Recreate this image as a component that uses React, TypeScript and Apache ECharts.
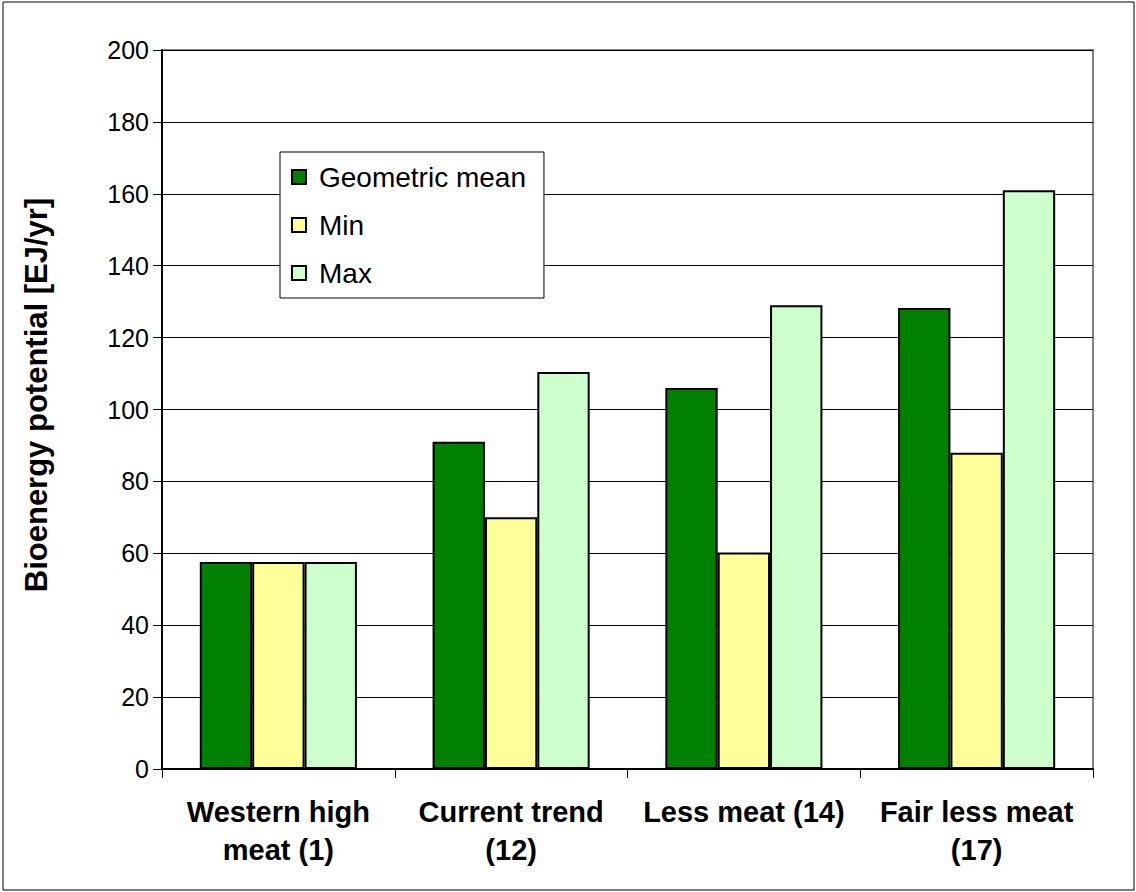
import React, { useEffect, useRef } from "react";
import * as echarts from "echarts";

const categories = ["Western high\nmeat (1)", "Current trend\n(12)", "Less meat (14)", "Fair less meat\n(17)"];
const geometricMean = [57.6, 91, 106, 128.2];
const minValues = [57.6, 70, 60.2, 88];
const maxValues = [57.6, 110.4, 129, 161];
const seriesNames = ["Geometric mean", "Min", "Max"];
const seriesColors = ["#008000", "#FFFF99", "#CCFFCC"];
const yAxisTitle = "Bioenergy potential [EJ/yr]";

const FONT = "Liberation Sans, Arial, sans-serif";

export default function App() {
  const ref = useRef<HTMLDivElement>(null);
  useEffect(() => {
    const chart = echarts.init(ref.current!, null, { renderer: "svg" });
    const data = [geometricMean, minValues, maxValues];
    chart.setOption({
      animation: false,
      backgroundColor: "#ffffff",
      textStyle: { fontFamily: FONT },
      grid: { left: 162, top: 50, right: 43, bottom: 123, show: true, borderColor: "#808080", borderWidth: 2, backgroundColor: "transparent" },
      legend: {
        orient: "vertical",
        left: 280,
        top: 152,
        padding: [11, 18, 11, 11],
        itemGap: 20,
        itemWidth: 14,
        itemHeight: 14,
        icon: "rect",
        backgroundColor: "#ffffff",
        borderColor: "#000000",
        borderWidth: 1,
        textStyle: { fontSize: 28, lineHeight: 27, color: "#000", fontFamily: FONT, padding: [0, 0, 0, 8] },
        data: seriesNames,
      },
      xAxis: {
        type: "category",
        data: categories,
        axisLine: { lineStyle: { color: "#000", width: 2 } },
        axisTick: { show: true, length: 9, lineStyle: { color: "#000", width: 1 } },
        axisLabel: { fontSize: 29, fontWeight: "bold", color: "#000", margin: 24, lineHeight: 38, interval: 0, fontFamily: FONT },
      },
      yAxis: {
        type: "value",
        min: 0,
        max: 200,
        interval: 20,
        axisLine: { show: true, lineStyle: { color: "#000", width: 2 } },
        axisTick: { show: true, length: 9, lineStyle: { color: "#000", width: 1 } },
        axisLabel: { fontSize: 25, color: "#000", margin: 13, fontFamily: FONT },
        splitLine: { show: true, lineStyle: { color: "#000", width: 1 } },
      },
      series: seriesNames.map((name, i) => ({
        name,
        type: "bar",
        data: data[i],
        barGap: "0%",
        barCategoryGap: "32.5%",
        itemStyle: { color: seriesColors[i], borderColor: "#000", borderWidth: 2 },
      })),
      graphic: [
        {
          type: "rect",
          shape: { x: 3, y: 2, width: 1131, height: 888 },
          style: { fill: "none", stroke: "#000", lineWidth: 1 },
          silent: true,
        },
        {
          type: "text",
          x: 36,
          y: 395,
          rotation: Math.PI / 2,
          style: {
            text: yAxisTitle,
            fontSize: 31,
            fontWeight: "bold",
            fontFamily: FONT,
            fill: "#000",
            align: "center",
            verticalAlign: "middle",
          },
          silent: true,
        },
      ],
    });
    return () => chart.dispose();
  }, []);
  return <div ref={ref} style={{ position: "absolute", left: 0, top: 0, width: 1136, height: 892 }} />;
}
